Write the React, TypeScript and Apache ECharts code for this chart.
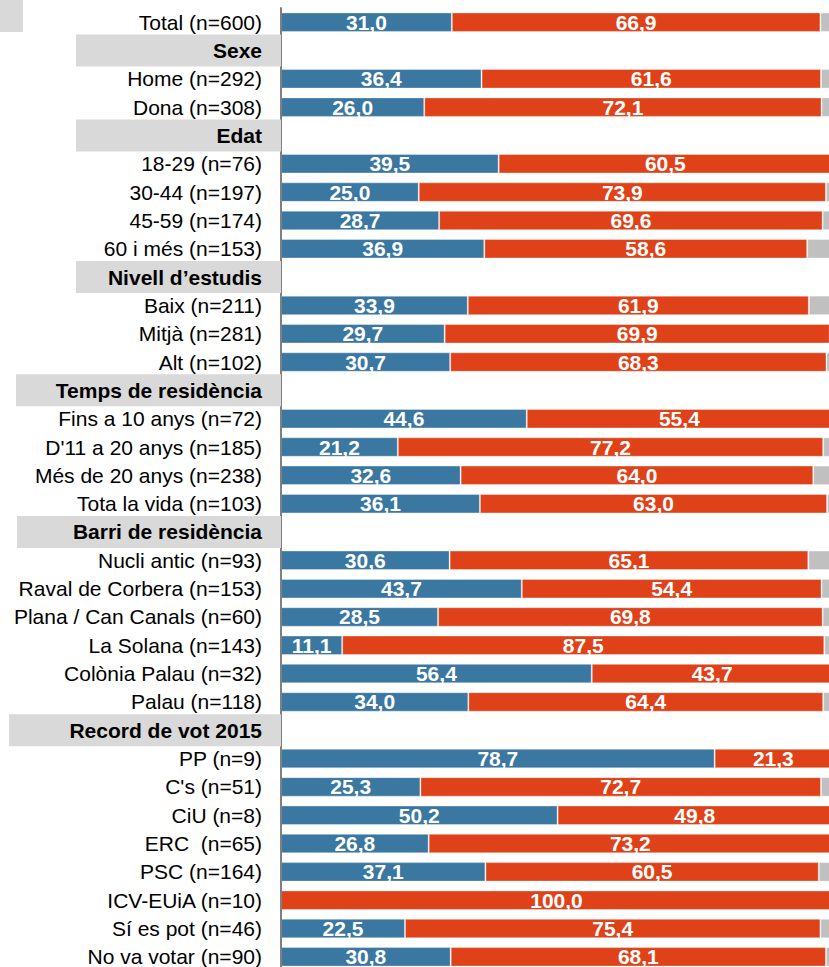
import React, { useEffect, useRef } from 'react';
import * as echarts from 'echarts';

const categories = [
  'Total (n=600)',
  'Sexe',
  'Home (n=292)',
  'Dona (n=308)',
  'Edat',
  '18-29 (n=76)',
  '30-44 (n=197)',
  '45-59 (n=174)',
  '60 i més (n=153)',
  'Nivell d’estudis',
  'Baix (n=211)',
  'Mitjà (n=281)',
  'Alt (n=102)',
  'Temps de residència',
  'Fins a 10 anys (n=72)',
  "D'11 a 20 anys (n=185)",
  'Més de 20 anys (n=238)',
  'Tota la vida (n=103)',
  'Barri de residència',
  'Nucli antic (n=93)',
  'Raval de Corbera (n=153)',
  'Plana / Can Canals (n=60)',
  'La Solana (n=143)',
  'Colònia Palau (n=32)',
  'Palau (n=118)',
  'Record de vot 2015',
  'PP (n=9)',
  "C's (n=51)",
  'CiU (n=8)',
  'ERC  (n=65)',
  'PSC (n=164)',
  'ICV-EUiA (n=10)',
  'Sí es pot (n=46)',
  'No va votar (n=90)',
];

const headers = ['Sexe', 'Edat', 'Nivell d’estudis', 'Temps de residència', 'Barri de residència', 'Record de vot 2015'];

const blueValues = [
  31.0, null, 36.4, 26.0, null, 39.5, 25.0, 28.7, 36.9, null, 33.9, 29.7, 30.7, null,
  44.6, 21.2, 32.6, 36.1, null, 30.6, 43.7, 28.5, 11.1, 56.4, 34.0, null,
  78.7, 25.3, 50.2, 26.8, 37.1, 0, 22.5, 30.8,
];

const redValues = [
  66.9, null, 61.6, 72.1, null, 60.5, 73.9, 69.6, 58.6, null, 61.9, 69.9, 68.3, null,
  55.4, 77.2, 64.0, 63.0, null, 65.1, 54.4, 69.8, 87.5, 43.7, 64.4, null,
  21.3, 72.7, 49.8, 73.2, 60.5, 100.0, 75.4, 68.1,
];

const greyValues = [
  2.1, null, 2.0, 1.9, null, 0, 1.1, 1.7, 4.5, null, 4.2, 0.4, 1.0, null,
  0, 1.6, 3.4, 0.9, null, 4.3, 1.9, 1.7, 1.4, 0, 1.6, null,
  0, 2.0, 0, 0, 2.4, 0, 2.1, 1.1,
];

// style key for each header's grey box (box widths differ)
const headerStyle: Record<string, string> = {
  'Sexe': 'h205',
  'Edat': 'h205',
  'Nivell d’estudis': 'h205',
  'Temps de residència': 'h265',
  'Barri de residència': 'h264',
  'Record de vot 2015': 'h272',
};

const FONT = "'Liberation Sans', Arial, sans-serif";

const headerRich = (w: number) => ({
  backgroundColor: '#d9d9d9',
  width: w - 19,
  height: 32,
  lineHeight: 32,
  padding: [0, 19, 0, 0],
  align: 'right',
  fontWeight: 'bold',
  fontSize: 21,
  color: '#000',
  fontFamily: FONT,
});

export default function App() {
  const ref = useRef<HTMLDivElement>(null);
  useEffect(() => {
    if (!ref.current) return;
    const chart = echarts.init(ref.current, undefined, { renderer: 'svg' });
    const fmt = (p: any) => {
      const v = p.value;
      if (v === null || v === undefined || v === 0 || v === '-') return '';
      return Number(v).toFixed(1).replace('.', ',');
    };
    const labelStyle = {
      show: true,
      position: 'inside',
      formatter: fmt,
      color: '#fff',
      fontWeight: 'bold',
      fontSize: 21,
      fontFamily: FONT,
    };
    const border = { borderColor: 'rgba(255,255,255,0.35)', borderWidth: 1 };
    chart.setOption({
      animation: false,
      backgroundColor: '#fff',
      textStyle: { fontFamily: FONT },
      graphic: [
        { type: 'rect', shape: { x: 0, y: 0, width: 23, height: 32 }, style: { fill: '#d9d9d9' } },
      ],
      grid: { left: 281, top: 8, width: 551, height: 963, containLabel: false },
      xAxis: { type: 'value', min: 0, max: 100, show: false },
      yAxis: {
        type: 'category',
        inverse: true,
        data: categories,
        z: 5,
        axisLine: { show: true, lineStyle: { color: '#808080', width: 2 } },
        axisTick: { show: false },
        splitLine: { show: false },
        axisLabel: {
          margin: 0,
          interval: 0,
          formatter: (v: string) => (headers.includes(v) ? `{${headerStyle[v]}|${v}}` : `{n|${v}}`),
          rich: {
            n: { padding: [0, 19, 0, 0], fontSize: 21, color: '#000', fontFamily: FONT },
            h205: headerRich(205),
            h265: headerRich(265),
            h264: headerRich(264),
            h272: headerRich(272),
          },
        },
      },
      series: [
        {
          type: 'bar', stack: 'a', data: blueValues, barWidth: 19.5,
          itemStyle: { color: '#3a77a1', ...border }, label: labelStyle,
        },
        {
          type: 'bar', stack: 'a', data: redValues, barWidth: 19.5,
          itemStyle: { color: '#df4219', ...border }, label: labelStyle,
        },
        {
          type: 'bar', stack: 'a', data: greyValues, barWidth: 19.5,
          itemStyle: { color: '#c0c0c0', ...border }, label: { show: false },
        },
      ],
    });
    return () => chart.dispose();
  }, []);
  return (
    <div style={{ position: 'fixed', left: 0, top: 0, width: 829, height: 967, overflow: 'hidden' }}>
      <div ref={ref} style={{ position: 'absolute', left: 0, top: 0, width: 840, height: 980 }} />
    </div>
  );
}
